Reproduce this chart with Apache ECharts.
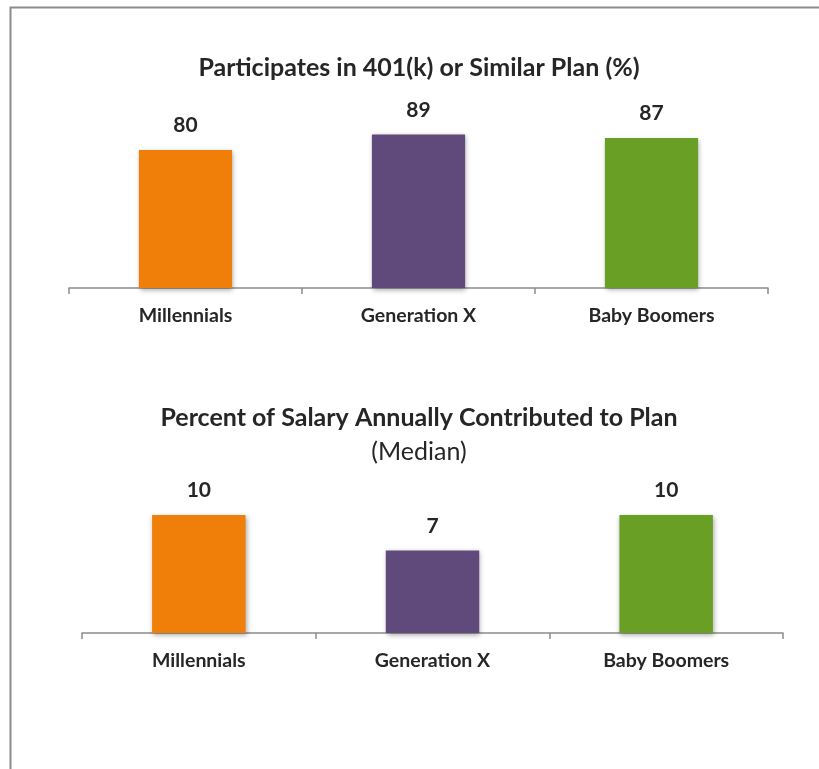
<!DOCTYPE html>
<html><head><meta charset="utf-8">
<script src="https://cdn.jsdelivr.net/npm/echarts@6/dist/echarts.min.js"></script>
<style>html,body{margin:0;padding:0;background:#fff}#c{width:819px;height:769px}</style>
</head><body><div id="c"></div>
<script>
const categories = ['Millennials', 'Generation X', 'Baby Boomers'];
const participation = [80, 89, 87];
const contribution = [10, 7, 10];
const barColors = ['#F07F09', '#604A7B', '#6A9F26'];

const FONT = 'Lato';
const TXT = '#262626';
const chart = echarts.init(document.getElementById('c'), null, {renderer: 'canvas'});

function dataWithColors(vals) {
  return vals.map((v, i) => ({value: v, itemStyle: {color: barColors[i]}}));
}
const barStyle = {shadowBlur: 5, shadowOffsetY: 2, shadowOffsetX: 1, shadowColor: 'rgba(0,0,0,0.35)'};
const labelStyle = {show: true, position: 'top', distance: 14, color: TXT, fontFamily: FONT, fontWeight: 'bold', fontSize: 21};
function xAxis(gi) {
  return {
    type: 'category', gridIndex: gi, data: categories,
    axisLine: {lineStyle: {color: '#8c8c8c', width: 1.5}},
    axisTick: {show: true, length: 6, lineStyle: {color: '#8c8c8c', width: 1.5}},
    axisLabel: {color: TXT, fontFamily: FONT, fontWeight: 'bold', fontSize: 19.5, margin: 18}
  };
}
function yAxis(gi, max) {
  return {type: 'value', gridIndex: gi, min: 0, max: max, show: false, splitLine: {show: false}};
}

chart.setOption({
  animation: false,
  graphic: [{type: 'rect', shape: {x: 10.5, y: 7.5, width: 900, height: 900}, style: {fill: 'none', stroke: '#8c8c8c', lineWidth: 2}}],
  title: [
    {text: 'Participates in 401(k) or Similar Plan (%)', left: 414, top: 50, textAlign: 'center',
     textStyle: {fontFamily: FONT, fontWeight: 'bold', fontSize: 25, color: TXT}},
    {text: 'Percent of Salary Annually Contributed to Plan', left: 414, top: 400, textAlign: 'center',
     textStyle: {fontFamily: FONT, fontWeight: 'bold', fontSize: 25, color: TXT}},
    {text: '(Median)', left: 414, top: 434, textAlign: 'center',
     textStyle: {fontFamily: FONT, fontWeight: 'normal', fontSize: 25, color: TXT}}
  ],
  grid: [
    {left: 69, width: 699, top: 115.5, height: 172.5},
    {left: 82, width: 701, top: 515, height: 118}
  ],
  xAxis: [xAxis(0), xAxis(1)],
  yAxis: [yAxis(0, 100), yAxis(1, 10)],
  series: [
    {type: 'bar', xAxisIndex: 0, yAxisIndex: 0, barWidth: '40%', data: dataWithColors(participation), itemStyle: barStyle, label: labelStyle},
    {type: 'bar', xAxisIndex: 1, yAxisIndex: 1, barWidth: '40%', data: dataWithColors(contribution), itemStyle: barStyle, label: labelStyle}
  ]
});
</script></body></html>
